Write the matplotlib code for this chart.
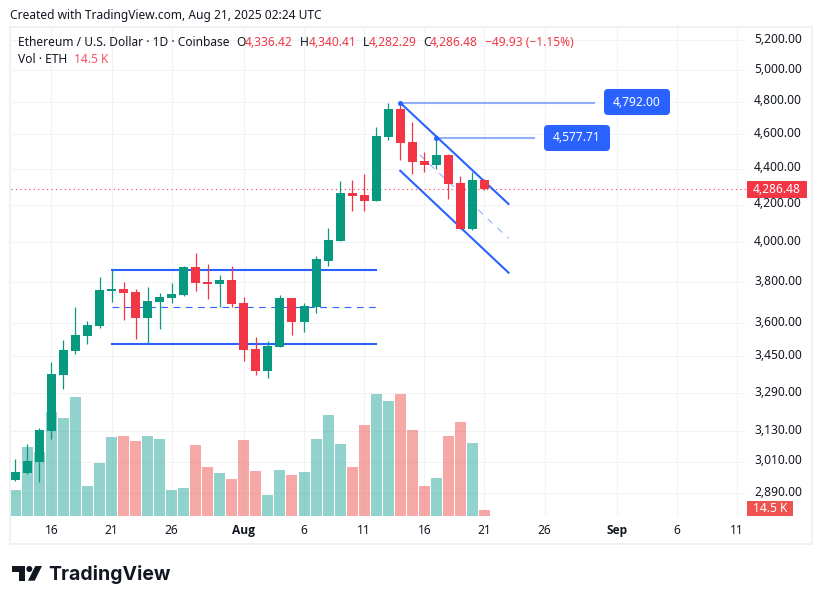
import numpy as np
import pandas as pd
import matplotlib
matplotlib.use("Agg")
import matplotlib.pyplot as plt
import matplotlib.dates as mdates
from matplotlib.patches import FancyBboxPatch, Polygon, Circle, Rectangle
from matplotlib.ticker import NullLocator
from matplotlib.transforms import IdentityTransform, ScaledTranslation

W, H = 822, 604

days = pd.date_range("2025-07-13", "2025-08-21")
opens = [2939, 2965, 3008, 3131, 3367, 3473, 3541, 3588, 3754, 3764, 3749, 3625, 3701, 3720,
         3735, 3873, 3798, 3788, 3808, 3696, 3482, 3384, 3491, 3720, 3606, 3677, 3903, 4006,
         4263, 4252, 4219, 4584, 4753, 4554, 4444, 4421, 4478, 4318, 4069, 4336.42]
highs = [3020, 3079, 3143, 3424, 3523, 3677, 3611, 3823, 3858, 3798, 3764, 3774, 3745, 3793,
         3878, 3944, 3888, 3833, 3878, 3725, 3537, 3519, 3735, 3720, 3696, 3928, 4074, 4330,
         4335, 4369, 4644, 4791, 4792, 4674, 4496, 4577.71, 4484, 4358, 4381, 4340.41]
lows = [2935, 2961, 2931, 3099, 3306, 3460, 3505, 3578, 3701, 3616, 3528, 3510, 3574, 3696,
        3730, 3754, 3715, 3677, 3677, 3429, 3367, 3354, 3491, 3546, 3560, 3649, 3878, 4006,
        4165, 4165, 4219, 4566, 4449, 4369, 4381, 4398, 4230, 4069, 4063, 4282.29]
closes = [2970, 3012, 3135, 3371, 3478, 3546, 3592, 3759, 3764, 3745, 3625, 3706, 3725, 3740,
          3873, 3793, 3788, 3808, 3692, 3478, 3384, 3496, 3720, 3606, 3682, 3913, 4011, 4263,
          4247, 4219, 4590, 4753, 4549, 4438, 4421, 4478, 4313, 4069, 4335, 4286.48]
# volume in thousands of ETH
volumes = [62, 166, 154, 251, 236, 287, 72, 127, 190, 193, 181, 193, 186, 62, 67, 171, 118, 103,
           89, 183, 108, 51, 111, 99, 106, 186, 244, 174, 118, 220, 295, 278, 295, 208, 73, 92,
           193, 227, 176, 14.5]

price_ticks = [5200, 5000, 4800, 4600, 4400, 4200, 4000, 3800, 3600, 3450, 3290, 3130, 3010, 2890]
date_ticks = ["2025-07-16", "2025-07-21", "2025-07-26", "2025-08-01", "2025-08-06", "2025-08-11",
              "2025-08-16", "2025-08-21", "2025-08-26", "2025-09-01", "2025-09-06", "2025-09-11"]
date_labels = ["16", "21", "26", "Aug", "6", "11", "16", "21", "26", "Sep", "6", "11"]
last_price = 4286.48
peak_1 = 4792.00
peak_2 = 4577.71

# range drawing (Jul 21 - Aug 12)
range_top, range_mid, range_bottom = 3858, 3677, 3507
# channel drawing (Aug 14 - Aug 23): start and end price of each line
chan_upper = [4792, 4203]
chan_mid = [4587, 4020]
chan_lower = [4388, 3845]

GREEN = "#089981"
RED = "#F23645"
VOL_GREEN = "#26A69A"
VOL_RED = "#EF5350"
BLUE = "#2962FF"
TEXT = "#131722"
GRID = "#F2F3F5"
FONT = "Noto Sans"
plt.rcParams["font.family"] = [FONT, "DejaVu Sans"]


def fx(x):
    return x / W


def fy(y):
    return 1 - y / H


def dnum(*stamps):
    return mdates.date2num([pd.Timestamp(s) for s in stamps])


def ptext(x, y, s, color=TEXT, size=8.64, **kw):
    # text placed by image pixel, y measured from the top
    fig.text(fx(x), fy(y), s, color=color, fontsize=size, va="center", **kw)


def pbox(x, y, w, h, color, s, radius=0.5):
    box = FancyBboxPatch((x, H - y - h), w, h, boxstyle=f"round,pad=0,rounding_size={radius}",
                         fc=color, ec="none", transform=IdentityTransform())
    fig.add_artist(box)
    ptext(x + w / 2, y + h / 2, s, color="white", ha="center")


fig = plt.figure(figsize=(W / 100, H / 100), dpi=100)
fig.patch.set_facecolor("white")

pos = [fx(11), fy(516), fx(746 - 11), (516 - 28) / H]
ax_grid = fig.add_axes(pos)
ax_vol = ax_grid.twinx()
ax = ax_grid.twinx()

x = mdates.date2num(days)
opens, highs, lows, closes = map(np.array, (opens, highs, lows, closes))
volumes = np.array(volumes)
up = closes >= opens
x_chan = dnum("2025-08-14", "2025-08-23")
x_range = dnum("2025-07-21", "2025-08-12")

ymin, ymax = 2805, 5280
xmin, xmax = x[0] - 0.357, x[0] + 60.74

# grid + axis labels on the bottom layer
ax_grid.set_yscale("log")
ax_grid.set_xlim(xmin, xmax)
ax_grid.set_ylim(ymin, ymax)
ax_grid.yaxis.tick_right()
ax_grid.set_yticks(price_ticks)
ax_grid.set_yticklabels([f"{p:,.2f}" for p in price_ticks])
ax_grid.yaxis.set_minor_locator(NullLocator())
ax_grid.set_xticks(dnum(*date_ticks))
ax_grid.set_xticklabels(date_labels)
ax_grid.grid(True, color=GRID, lw=0.8)
ax_grid.set_axisbelow(True)
ax_grid.tick_params(axis="both", length=0, labelsize=8.64, labelcolor=TEXT)
ax_grid.tick_params(axis="y", pad=5.8)
ax_grid.tick_params(axis="x", pad=5.6)
shift = ScaledTranslation(0, 1.6 / 72, fig.dpi_scale_trans)
for lab in ax_grid.get_yticklabels():
    lab.set_transform(lab.get_transform() + shift)

# volume
vol_colors = [VOL_GREEN if u else VOL_RED for u in up]
ax_vol.bar(x, volumes, width=0.915, color=vol_colors, alpha=0.5, linewidth=0)
ax_vol.set_ylim(0, 1180)
ax_vol.set_xlim(xmin, xmax)
ax_vol.yaxis.set_visible(False)

# price layer
ax.set_yscale("log")
ax.set_xlim(xmin, xmax)
ax.set_ylim(ymin, ymax)
ax.yaxis.set_visible(False)
for a in (ax_grid, ax_vol, ax):
    for s in a.spines.values():
        s.set_visible(False)

# drawings sit under the candles
for level in (range_top, range_bottom):
    ax.plot(x_range, [level, level], color=BLUE, lw=1.5, solid_capstyle="projecting", zorder=2)
ax.plot(x_range, [range_mid, range_mid], color=BLUE, lw=0.8, dashes=(6, 5), zorder=2)

ax.plot(x_chan, chan_upper, color=BLUE, lw=1.5, zorder=2)
ax.plot(x_chan, chan_lower, color=BLUE, lw=1.5, zorder=2)
ax.plot(x_chan, chan_mid, color=BLUE, lw=0.8, alpha=0.5, dashes=(6, 6), zorder=2)

x_peak1 = dnum("2025-08-14", "2025-08-30 04:00")
x_peak2 = dnum("2025-08-17", "2025-08-25 05:00")
ax.plot(x_peak1, [peak_1, peak_1], color=BLUE, lw=1.5, alpha=0.5, solid_capstyle="butt", zorder=2)
ax.plot(x_peak2, [peak_2, peak_2], color=BLUE, lw=1.5, alpha=0.5, solid_capstyle="butt", zorder=2)

ax.axhline(last_price, color=RED, lw=0.8, dashes=(1, 3), zorder=2)

# candles
colors = np.where(up, GREEN, RED)
ax.vlines(x, lows, highs, colors=colors, lw=0.9, zorder=3)
tops = np.maximum(opens, closes)
bots = np.minimum(opens, closes)
ax.bar(x, tops - bots, bottom=bots, width=0.75, color=colors, linewidth=0, zorder=4)

ax.plot([x_peak1[0], x_peak2[0]], [peak_1, peak_2], ls="none", marker="o", ms=3.6,
        mfc=BLUE, mec="none", zorder=5)

ax.set_ylim(ymin, ymax)
ax.set_xlim(xmin, xmax)

# month labels are bold; set last so nothing above resets them
fig.canvas.draw()
for lab in ax_grid.get_xticklabels():
    if lab.get_text() in ("Aug", "Sep"):
        lab.set_fontfamily("Open Sans")
        lab.set_fontweight("bold")

# outer frame
fig.add_artist(Rectangle((10, H - 544), 802, 517, fill=False, ec="#F1F1F2", lw=1.44,
                         transform=IdentityTransform()))

# header text
ptext(9.5, 15, "Created with TradingView.com, Aug 21, 2025 02:24 UTC")
ptext(17.5, 42.5, "Ethereum / U.S. Dollar · 1D · Coinbase")
for lx, letter, vx, val in [(236.2, "O", 245, "4,336.42"), (299.5, "H", 308.5, "4,340.41"),
                            (362.5, "L", 368.5, "4,282.29"), (422.8, "C", 430.2, "4,286.48")]:
    ptext(lx, 42.5, letter)
    ptext(vx, 42.5, val, color=RED)
ptext(484.5, 42.5, "−49.93 (−1.15%)", color=RED)
ptext(17.5, 59.5, "Vol · ETH")
ptext(73.5, 59.5, "14.5 K", color="#F7525F")

# price tags
pbox(604, 89, 66, 26, BLUE, "4,792.00", radius=4)
pbox(544, 125, 66, 26, BLUE, "4,577.71", radius=4)
pbox(747, 181, 60, 17, RED, "4,286.48")
pbox(747, 501, 46, 15, VOL_RED, "14.5 K")

# TradingView logo
ox, oy = 12, 566
logo = [
    Polygon([(0, 0), (13.3, 0), (13.3, 14.7), (7.3, 14.7), (7.3, 6), (0, 6)], closed=True),
    Polygon([(23.3, 0), (30, 0), (22.7, 14.7), (16, 14.7)], closed=True),
]
for p in logo:
    p.set_xy([(ox + a, H - oy - b) for a, b in p.get_xy()])
    p.set(fc=TEXT, ec="none", transform=IdentityTransform())
    fig.add_artist(p)
fig.add_artist(Circle((ox + 17.3, H - oy - 3), 3, fc=TEXT, ec="none", transform=IdentityTransform()))
ptext(48.5, 574, "TradingView", size=14, family=["Inter", "DejaVu Sans"], fontweight="bold")

fig.savefig("out.png", dpi=100, facecolor="white")
